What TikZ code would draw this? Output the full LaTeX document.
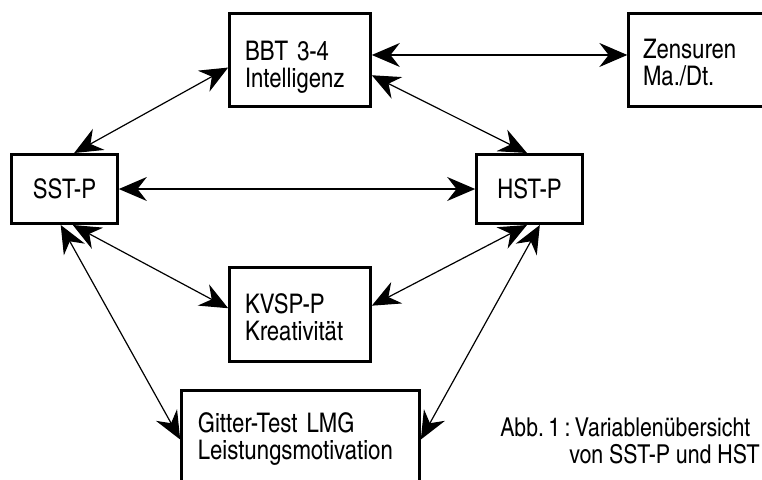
\documentclass[tikz,border=0pt]{standalone}
\usepackage{fontspec}
\setmainfont{texgyreheroscn-regular.otf}
\usepackage{tikz}
\usetikzlibrary{arrows.meta}

\begin{document}
\begin{tikzpicture}[x=0.75pt,y=-0.75pt, %pixel grid, y going down
    font=\fontsize{20.25}{20.25}\selectfont,
    >={Stealth[length=21pt,width=18pt,inset=7pt]},
    kasten/.style={draw,line width=2pt,inner sep=0pt},
    zweizeilig/.style 2 args={align=left,text height=#1,text depth=#2}]
\useasboundingbox (0,0) rectangle (762,479);
    %the tests
    \node[kasten,zweizeilig={20pt}{20pt},minimum width=105.75pt,minimum height=69.75pt,text width=82.5pt] (BBT) at (300,60) {BBT 3-4\\Intelligenz};
    \node[kasten,zweizeilig={19pt}{21pt},minimum width=110pt,minimum height=69.75pt,text width=88.5pt] (Zen) at (702,60) {Zensuren\\Ma./Dt.};
    \node[kasten,minimum width=79.5pt,minimum height=52pt] (SST) at (64.5,189) {SST-P};
    \node[kasten,minimum width=79.5pt,minimum height=52pt] (HST) at (529.5,189) {HST-P};
    \node[kasten,zweizeilig={19pt}{21pt},minimum width=105.75pt,minimum height=70.5pt,text width=82.5pt] (KVSP) at (300,314.5) {KVSP-P\\Kreativit\"at};
    \node[kasten,zweizeilig={15pt}{25pt},minimum width=178.5pt,minimum height=73.5pt,text width=154pt] (Git) at (300.5,439.5) {Gitter-Test LMG\\Leistungsmotivation};
%the correlations
    \begin{scope}[every path/.style={<->,line width=0.9pt}]
       \draw (SST.75) -- (BBT.186);
       \draw (BBT.4) -- (BBT.4 -| Zen.west);
       \draw (BBT.-12) -- (HST.94);
       \draw (SST.east) -- (HST.west);
       \draw (SST.-77) -- (KVSP.175);
       \draw (SST.-96) -- (Git.west);
       \draw (HST.-94) -- (KVSP.7);
       \draw (HST.-74) -- (Git.east);
    \end{scope}
%caption
    \begin{scope}[font=\fontsize{19.5}{20.25}\selectfont]
    \node[inner sep=0pt,anchor=base west] (abb) at (500,436) {Abb.\,1\,:\,Variablen\"ubersicht};
    \node[inner sep=0pt,anchor=base east] (abbvon) at (760,463) {von SST-P und HST};
    \end{scope}
\end{tikzpicture}
\end{document}
